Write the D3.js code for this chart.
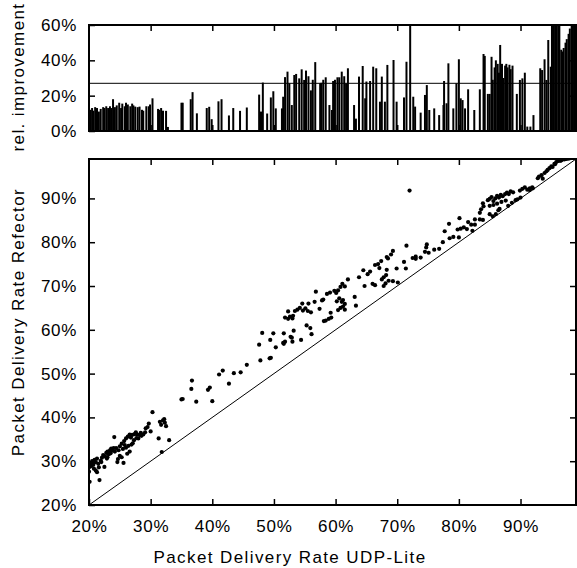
<!DOCTYPE html>
<html>
<head>
  <meta charset="utf-8">
  <script src="https://cdnjs.cloudflare.com/ajax/libs/d3/7.8.5/d3.min.js"></script>
  <style>
    body { margin: 0; background: #fff; }
    text { font-family: "Liberation Sans", Arial, Helvetica, sans-serif; }
  </style>
</head>
<body>
  <script>
    // scatter: packet delivery rate in percent, one entry per measurement
    var udpLite = [
      20.1, 20.0, 20.1, 20.3, 20.5, 20.4, 20.7, 20.9, 21.1, 21.3, 21.6, 21.7, 21.1, 21.3, 20.8, 21.9, 22.1, 22.5, 22.3, 22.6,
      22.8, 23.0, 23.2, 23.4, 23.6, 23.8, 23.0, 22.9, 24.1, 24.0, 23.5, 22.0, 21.5, 20.6,
      24.6, 24.7, 25.0, 25.3, 25.6, 25.0, 25.3, 25.7, 26.0, 26.3, 26.6, 27.0, 27.4, 27.8, 28.2, 28.5, 28.8, 26.0, 26.4, 26.9,
      27.3, 27.7, 24.4, 24.8, 25.5, 26.2, 26.6, 27.1, 28.0, 29.1, 29.5, 29.7, 30.3, 30.0, 29.2, 25.8, 26.8, 27.6, 28.4, 24.2,
      31.3, 31.8, 31.7, 32.0, 32.3, 32.5, 33.0, 31.5, 32.2, 35.0, 35.2, 36.6, 36.7, 37.4, 39.3, 39.6, 40.0, 41.1, 41.7, 42.7,
      43.5, 44.6, 45.6,
      47.8, 47.6, 48.1, 49.3, 49.5, 49.4, 49.9, 50.3, 51.5, 51.6, 51.8, 51.6, 52.7, 52.9, 53.2, 53.0, 54.4, 56.1, 55.3, 55.9,
      51.8, 52.3, 52.6, 53.0, 53.1, 52.3, 53.4, 53.8, 54.2, 54.7, 55.1, 55.5, 56.0, 54.6, 55.6, 56.6, 56.8, 57.4, 57.8, 58.0,
      58.1, 58.4, 58.9, 59.3, 59.2,
      58.6, 59.1, 59.8, 60.1, 60.4, 60.2, 60.6, 61.0, 61.2, 61.5, 60.4, 60.8, 61.2, 61.5, 60.8, 61.1, 61.5, 62.0, 63.1, 63.3,
      63.8, 64.5, 65.2, 65.6, 66.4, 66.9, 67.1, 64.7, 66.0, 66.4, 67.4, 67.5, 67.8, 68.3, 68.2, 67.8, 68.1, 68.6, 68.3, 69.3,
      69.3, 69.9, 70.1, 68.5, 69.0,
      72.0, 71.1, 71.4, 71.5, 72.5, 73.0, 73.8, 73.0, 74.5, 74.7, 74.8, 75.1, 76.0, 76.8, 77.4, 77.7, 78.5, 79.1, 78.4, 79.8,
      80.3, 80.8, 81.3, 80.1, 80.0, 81.5, 82.2, 82.6, 82.0, 82.6, 83.4, 83.4, 83.6, 83.9, 84.0, 83.9,
      84.7, 85.0, 85.3, 85.6, 85.9, 86.2, 86.5, 86.8, 87.1, 87.5, 87.8, 88.1, 88.4, 88.8, 85.0, 85.6, 86.2, 86.9, 87.6, 85.0,
      85.5, 86.0, 86.4, 86.6, 88.0, 88.6, 89.2, 89.5, 89.9, 90.3, 90.7, 91.1, 91.5, 91.9, 91.5, 92.0, 90.0,
      92.8, 93.0, 93.4, 93.6, 93.9, 94.2, 94.4, 94.7, 95.0, 95.2, 95.5, 95.6, 95.8, 96.0, 96.3, 96.5, 96.6, 96.8, 97.1, 97.2,
      97.4, 97.7, 97.9, 98.0, 98.2, 98.5, 98.9, 99.0
    ];

    var refector = [
      25.3, 27.6, 28.7, 29.5, 30.0, 28.9, 29.2, 30.3, 29.8, 30.6, 28.6, 25.7, 27.9, 27.5, 28.3, 30.1, 30.8, 28.7, 31.4, 31.1,
      31.9, 32.2, 31.6, 32.5, 32.9, 32.4, 30.9, 30.6, 35.5, 33.0, 31.8, 29.8, 29.4, 29.9,
      29.8, 30.5, 31.2, 30.9, 29.6, 33.4, 34.0, 34.6, 35.2, 35.6, 36.1, 36.0, 36.2, 36.1, 36.0, 35.8, 36.1, 33.1, 33.5, 33.8,
      34.8, 35.3, 33.0, 32.5, 32.8, 31.7, 32.2, 34.1, 35.2, 36.6, 37.8, 38.6, 41.2, 36.8, 37.5, 33.7, 35.4, 36.6, 36.5, 32.2,
      35.2, 32.1, 38.3, 39.3, 38.8, 38.0, 34.8, 39.0, 39.6, 44.1, 44.2, 46.5, 48.4, 43.6, 46.3, 46.8, 43.7, 49.8, 50.7, 47.7,
      50.1, 50.3, 52.0,
      53.0, 56.6, 59.3, 53.5, 53.6, 57.7, 59.2, 56.0, 57.0, 56.8, 57.3, 59.2, 58.4, 58.2, 59.8, 57.3, 57.7, 59.0, 61.0, 60.4,
      62.8, 62.5, 63.0, 62.6, 63.2, 64.2, 64.3, 64.6, 65.0, 64.4, 64.9, 64.3, 64.0, 66.0, 66.0, 66.4, 68.7, 64.8, 66.7, 66.9,
      62.0, 62.1, 62.5, 62.8, 63.9,
      68.2, 68.5, 68.9, 68.4, 69.0, 66.5, 67.2, 66.4, 66.8, 65.9, 64.5, 65.0, 65.3, 64.6, 69.8, 70.5, 69.9, 71.5, 67.5, 65.5,
      72.0, 73.6, 72.7, 73.3, 74.8, 75.0, 74.1, 70.0, 70.5, 70.2, 75.7, 71.5, 72.0, 73.7, 72.5, 70.0, 70.6, 71.2, 76.6, 78.0,
      71.1, 74.0, 70.8, 76.3, 77.2,
      91.8, 75.5, 74.0, 79.2, 76.4, 76.7, 76.5, 76.2, 77.8, 78.8, 79.5, 77.6, 78.3, 78.5, 80.0, 82.5, 80.9, 81.2, 84.2, 82.9,
      83.1, 83.4, 83.0, 85.5, 81.1, 84.6, 82.6, 84.0, 84.0, 85.2, 85.2, 86.7, 87.5, 88.9, 88.2, 85.1,
      89.6, 89.9, 90.3, 89.4, 90.0, 90.6, 90.2, 90.8, 90.5, 91.0, 91.3, 91.0, 91.6, 91.4, 88.3, 88.5, 88.8, 89.2, 89.5, 86.4,
      85.9, 86.4, 87.3, 87.6, 88.3, 89.0, 89.6, 89.8, 91.8, 92.2, 92.5, 92.0, 92.3, 92.5, 91.9, 92.3, 90.2,
      94.6, 95.0, 95.3, 94.5, 95.8, 96.2, 96.5, 96.9, 97.3, 97.2, 97.9, 97.8, 98.3, 98.5, 98.6, 98.6, 98.7, 98.9, 98.9, 99.0,
      99.0, 99.1, 99.2, 99.2, 99.3, 99.4, 99.6, 99.7
    ];

    // impulses of the upper panel: UDP-Lite delivery rate and relative improvement, both in percent
    var barRate = [
      20.0, 20.25, 20.5, 20.7, 21.0, 21.3, 21.6, 21.9, 22.3, 22.5, 22.8, 23.1, 23.4, 23.6, 23.9, 24.2, 24.5, 24.9, 25.2, 25.4,
      25.8, 26.0, 26.3, 26.7, 27.0, 27.2, 27.5, 27.9, 28.2, 28.6, 28.8, 29.3, 29.7, 29.9, 30.3, 31.2, 31.4, 31.7, 32.0, 32.5,
      32.8,
      35.0, 35.2, 36.5, 36.8, 37.5, 39.1, 39.5, 39.9, 41.0, 41.5, 42.7, 43.4, 44.5, 45.6, 47.6, 47.9, 48.2, 48.9, 49.5, 49.9,
      50.3, 51.3, 51.5, 51.8, 52.2, 52.5, 52.9, 53.3, 53.6, 54.1, 54.5, 54.9, 55.2, 55.6, 56.0, 56.3, 56.7, 57.5, 57.7, 58.0,
      58.4, 59.0, 59.4, 59.6, 59.9, 60.3, 60.6, 61.0, 61.4, 61.7, 62.0, 63.0, 63.3, 63.8, 64.4, 64.8, 65.0, 65.6, 66.1, 66.6,
      67.2, 67.5, 68.0, 68.4, 69.4, 69.9, 71.1, 71.5, 72.1, 72.6, 72.9, 73.8, 74.5, 74.8, 75.2, 76.0, 76.8, 77.5, 77.6, 78.0,
      78.3, 79.1, 79.6, 80.0, 80.3, 80.6, 81.0, 81.5, 82.5, 83.4, 84.0, 84.2, 84.7, 85.0, 85.3,
      85.5, 85.8, 86.0, 86.3, 86.5, 86.7, 87.0, 87.2, 87.5, 87.7, 87.9, 88.2, 88.4, 88.7,
      89.4, 89.9, 90.3, 90.7, 91.1, 91.6, 92.1, 93.2, 93.5, 93.9, 94.2, 94.5, 94.9,
      95.1, 95.3, 95.6, 95.8, 96.1, 96.3, 96.6, 96.8, 97.0, 97.3, 97.5, 97.8, 98.0, 98.3, 98.5, 98.7, 99.0
    ];

    var barImprovement = [
      12.8, 12.0, 13.0, 11.5, 13.5, 13.0, 11.0, 12.5, 13.5, 13.0, 14.0, 13.0, 14.0, 13.0, 18.0, 13.5, 14.5, 16.0, 13.0, 15.5,
      14.0, 16.0, 15.0, 14.0, 15.5, 14.5, 13.8, 13.5, 13.8, 12.0, 11.5, 14.0, 14.0, 15.0, 18.5, 12.5, 12.0, 13.0, 11.5, 11.4,
      2.3,
      16.0, 16.0, 18.0, 22.0, 10.0, 13.0, 13.7, 6.7, 16.8, 18.0, 8.8, 13.0, 11.4, 13.3, 20.6, 11.0, 27.4, 9.9, 19.0, 22.5,
      12.8, 12.8, 19.4, 30.5, 33.6, 27.0, 14.7, 31.7, 32.3, 29.8, 34.9, 28.9, 34.2, 31.0, 23.0, 29.0, 39.0, 27.0, 27.3, 29.0,
      30.4, 14.7, 11.9, 28.3, 29.0, 30.4, 30.4, 33.6, 31.0, 27.0, 35.5, 14.7, 7.0, 30.8, 36.8, 18.5, 28.0, 28.3, 36.4, 35.5,
      16.6, 30.8, 16.6, 37.4, 40.2, 16.6, 19.0, 39.2, 71.0, 19.4, 13.8, 10.4, 20.4, 26.0, 11.9, 12.8, 9.0, 14.7, 28.3, 15.7,
      38.3, 12.8, 27.0, 40.6, 18.5, 17.5, 12.8, 23.6, 11.9, 23.6, 43.6, 42.5, 21.0, 21.0, 42.0,
      29.0, 36.0, 40.0, 38.0, 33.0, 48.7, 38.0, 30.0, 37.0, 38.0, 36.0, 37.5, 35.0, 37.0,
      21.0, 28.9, 29.8, 33.0, 2.5, 2.5, 9.0, 35.5, 34.5, 40.6, 28.9, 51.5, 36.4,
      65.0, 65.0, 65.0, 65.0, 65.0, 62.0, 46.0, 45.0, 47.0, 50.0, 52.0, 55.0, 58.0, 62.0, 65.0, 65.0, 65.0
    ];

    var rateTicks = [20, 30, 40, 50, 60, 70, 80, 90];
    var improvementTicks = [0, 20, 40, 60];
    var meanImprovement = 27;

    var width = 577,
        height = 568,
        left = 89,
        right = 576,
        topTop = 25,
        topBottom = 131,
        mainTop = 159,
        mainBottom = 505,
        tickLen = 6;

    var points = udpLite.map(function(x, i) {
      return { x: x, y: refector[i] };
    });

    var bars = barRate.map(function(x, i) {
      return { x: x, imp: barImprovement[i] };
    });

    var svg = d3.select("body").append("svg")
      .attr("width", width)
      .attr("height", height);

    var x = d3.scaleLinear().domain([20, 99]).range([left, right]);
    var y = d3.scaleLinear().domain([20, 99]).range([mainBottom, mainTop]);
    var yi = d3.scaleLinear().domain([0, 60]).range([topBottom, topTop]);

    var pct = function(d) { return d + "%"; };

    svg.append("clipPath").attr("id", "clipTop")
      .append("rect")
      .attr("x", left).attr("y", topTop)
      .attr("width", right - left).attr("height", topBottom - topTop);

    svg.append("clipPath").attr("id", "clipMain")
      .append("rect")
      .attr("x", left).attr("y", mainTop)
      .attr("width", right - left).attr("height", mainBottom - mainTop);

    // ---- top panel: relative improvement as impulses
    var topPanel = svg.append("g");

    topPanel.append("g")
      .attr("clip-path", "url(#clipTop)")
      .selectAll("line")
      .data(bars)
      .enter().append("line")
      .attr("x1", function(d) { return x(d.x); })
      .attr("x2", function(d) { return x(d.x); })
      .attr("y1", yi(0))
      .attr("y2", function(d) { return yi(d.imp); })
      .attr("stroke", "#000")
      .attr("stroke-width", 2);

    topPanel.append("line")
      .attr("x1", left).attr("x2", right)
      .attr("y1", yi(meanImprovement)).attr("y2", yi(meanImprovement))
      .attr("stroke", "#000")
      .attr("stroke-width", 1);

    // ---- main panel: scatter and diagonal
    var mainPanel = svg.append("g");

    mainPanel.append("line")
      .attr("x1", x(20)).attr("y1", y(20))
      .attr("x2", x(99)).attr("y2", y(99))
      .attr("stroke", "#000")
      .attr("stroke-width", 1);

    mainPanel.append("g")
      .attr("clip-path", "url(#clipMain)")
      .selectAll("circle")
      .data(points)
      .enter().append("circle")
      .attr("cx", function(d) { return x(d.x); })
      .attr("cy", function(d) { return y(d.y); })
      .attr("r", 2.1)
      .attr("fill", "#000");

    // ---- axes, ticks pointing inward and mirrored
    function styleAxis(g, labels) {
      g.select(".domain").remove();
      g.selectAll(".tick line").attr("stroke", "#000").attr("stroke-width", 1.5);
      g.selectAll(".tick text")
        .attr("fill", "#000")
        .style("font-size", "17px")
        .style("letter-spacing", "0.7px");
      if (!labels) g.selectAll(".tick text").remove();
    }

    var xTickList = rateTicks.filter(function(d) { return d > 20; });

    svg.append("g")
      .attr("transform", "translate(0," + mainBottom + ")")
      .call(d3.axisBottom(x).tickValues(rateTicks).tickFormat(pct).tickSizeInner(-tickLen).tickPadding(15))
      .call(styleAxis, true);

    svg.append("g")
      .attr("transform", "translate(0," + mainTop + ")")
      .call(d3.axisTop(x).tickValues(xTickList).tickSizeInner(-tickLen))
      .call(styleAxis, false);

    svg.append("g")
      .attr("transform", "translate(" + left + ",0)")
      .call(d3.axisLeft(y).tickValues(rateTicks).tickFormat(pct).tickSizeInner(-tickLen).tickPadding(12))
      .call(styleAxis, true);

    svg.append("g")
      .attr("transform", "translate(" + right + ",0)")
      .call(d3.axisRight(y).tickValues(xTickList).tickSizeInner(-tickLen))
      .call(styleAxis, false);

    svg.append("g")
      .attr("transform", "translate(0," + topTop + ")")
      .call(d3.axisTop(x).tickValues(xTickList).tickSizeInner(-tickLen))
      .call(styleAxis, false);

    svg.append("g")
      .attr("transform", "translate(0," + topBottom + ")")
      .call(d3.axisBottom(x).tickValues(xTickList).tickSizeInner(-tickLen))
      .call(styleAxis, false);

    svg.append("g")
      .attr("transform", "translate(" + left + ",0)")
      .call(d3.axisLeft(yi).tickValues(improvementTicks).tickFormat(pct).tickSizeInner(-tickLen).tickPadding(12))
      .call(styleAxis, true);

    svg.append("g")
      .attr("transform", "translate(" + right + ",0)")
      .call(d3.axisRight(yi).tickValues(improvementTicks.slice(1, 3)).tickSizeInner(-tickLen))
      .call(styleAxis, false);

    // frames
    [[topTop, topBottom], [mainTop, mainBottom]].forEach(function(p) {
      svg.append("rect")
        .attr("x", left).attr("y", p[0])
        .attr("width", right - left).attr("height", p[1] - p[0])
        .attr("fill", "none")
        .attr("stroke", "#000")
        .attr("stroke-width", 2);
    });

    // titles
    function title(t, transform) {
      svg.append("text")
        .attr("transform", transform)
        .attr("text-anchor", "middle")
        .style("font-size", "17px")
        .style("letter-spacing", "1.4px")
        .text(t);
    }

    title("Packet Delivery Rate UDP-Lite", "translate(290,563)");
    title("Packet Delivery Rate Refector", "translate(24,322) rotate(-90)");
    title("rel. improvement", "translate(24,77) rotate(-90)");
  </script>
</body>
</html>
